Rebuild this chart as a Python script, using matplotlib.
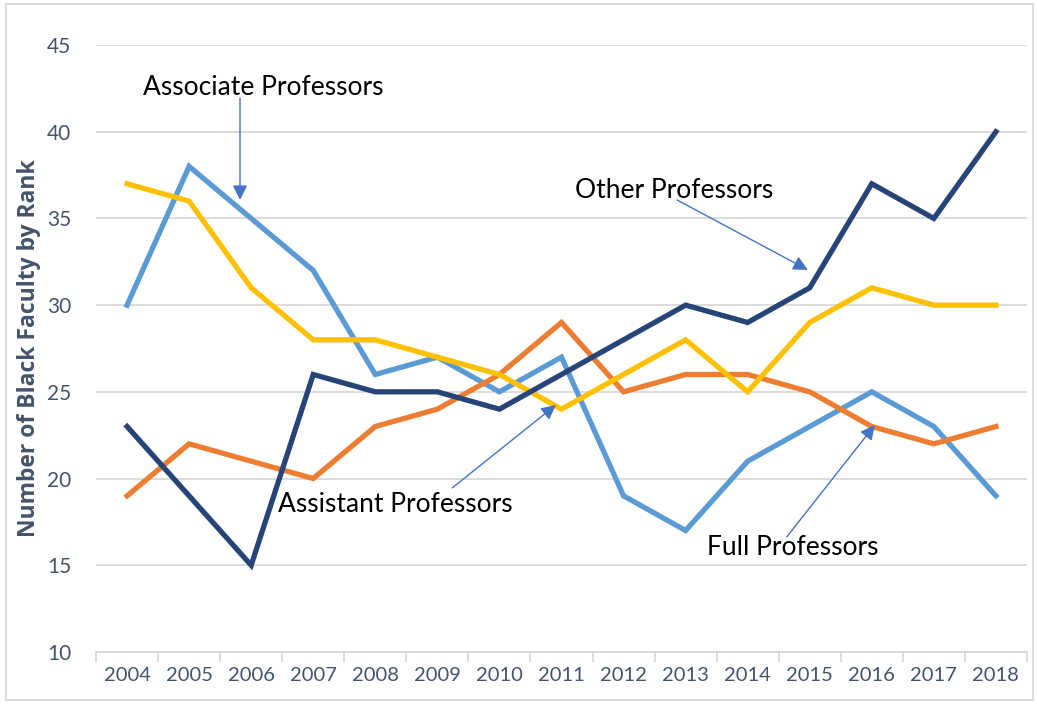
import matplotlib.pyplot as plt
from matplotlib.patches import Rectangle

years = list(range(2004, 2019))
other = [23, 19, 15, 26, 25, 25, 24, 26, 28, 30, 29, 31, 37, 35, 40]
associate = [30, 38, 35, 32, 26, 27, 25, 27, 19, 17, 21, 23, 25, 23, 19]
assistant = [37, 36, 31, 28, 28, 27, 26, 24, 26, 28, 25, 29, 31, 30, 30]
full = [19, 22, 21, 20, 23, 24, 26, 29, 25, 26, 26, 25, 23, 22, 23]

plt.rcParams['font.family'] = ['Lato', 'DejaVu Sans']

fig = plt.figure(figsize=(10.37, 7.04), dpi=100)
ax = fig.add_axes([0.0926, 0.074, 0.8977, 0.862])

grid_c = '#D9D9D9'
text_c = '#44546A'

ax.plot(years, associate, color='#5B9BD5', lw=3.8, solid_joinstyle='miter', zorder=3)
ax.plot(years, full, color='#ED7D31', lw=3.8, solid_joinstyle='miter', zorder=3)
ax.plot(years, assistant, color='#FFC000', lw=3.8, solid_joinstyle='miter', zorder=3)
ax.plot(years, other, color='#264478', lw=3.8, solid_joinstyle='miter', zorder=4)

ax.set_xlim(2003.5, 2018.5)
ax.set_ylim(10, 45)
ax.set_yticks(range(10, 46, 5))
ax.set_xticks(years)
ax.set_xticks([y - 0.5 for y in years] + [2018.5], minor=True)
ax.grid(axis='y', color=grid_c, lw=1.3, zorder=0)
for s in ['top', 'right', 'left']:
    ax.spines[s].set_visible(False)
ax.spines['bottom'].set_color(grid_c)
ax.spines['bottom'].set_linewidth(1.3)
ax.tick_params(axis='y', length=0, pad=18, labelsize=15, labelcolor=text_c)
ax.tick_params(axis='x', which='major', length=0, pad=11, labelsize=14.5, labelcolor=text_c)
ax.tick_params(axis='x', which='minor', length=7, color=grid_c, width=1.3)
ax.set_ylabel('Number of Black Faculty by Rank', fontsize=16.5, fontweight='bold',
              family=['Open Sans', 'DejaVu Sans'], color=text_c, labelpad=4)

arrow = dict(arrowstyle='-|>', color='#4472C4', lw=1, mutation_scale=22, shrinkA=0, shrinkB=0)
ax.annotate('', xy=(2005.82, 36.07), xytext=(2005.82, 41.95), arrowprops=arrow, zorder=5)
ax.text(2006.19, 42.53, 'Associate Professors', fontsize=19, ha='center', va='center')
ax.annotate('', xy=(2014.97, 32.03), xytext=(2012.86, 36.07), arrowprops=arrow, zorder=5)
ax.text(2012.81, 36.64, 'Other Professors', fontsize=19, ha='center', va='center')
ax.annotate('', xy=(2010.91, 24.24), xytext=(2009.24, 19.46), arrowprops=arrow, zorder=5)
ax.text(2008.33, 18.48, 'Assistant Professors', fontsize=19, ha='center', va='center')
ax.annotate('', xy=(2016.05, 23.09), xytext=(2014.63, 16.63), arrowprops=arrow, zorder=5)
ax.text(2014.73, 16.0, 'Full Professors', fontsize=19, ha='center', va='center')

fig.patches.append(Rectangle((0.006, 0.006), 0.99, 0.988, transform=fig.transFigure,
                             fill=False, edgecolor=grid_c, lw=1.3))

fig.savefig('out.png', dpi=100)
